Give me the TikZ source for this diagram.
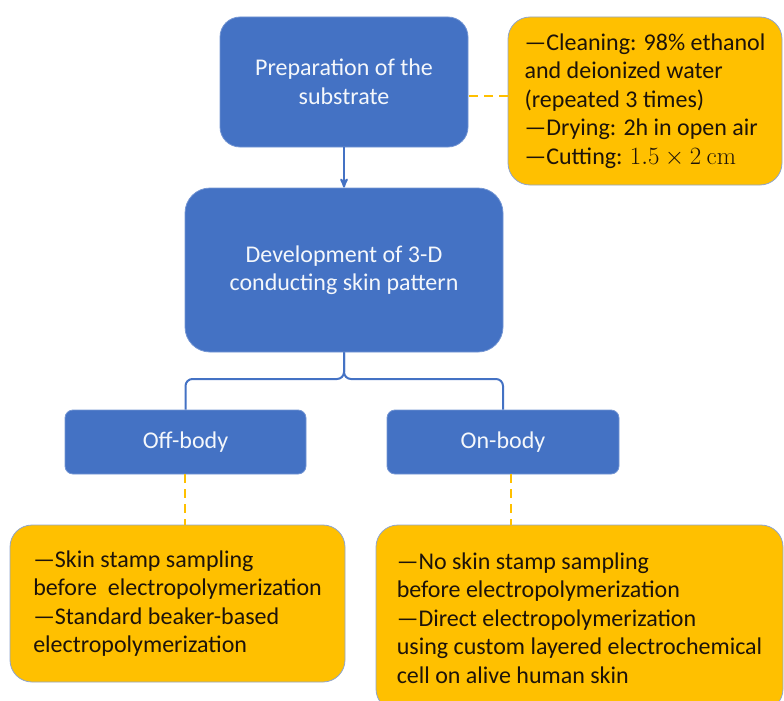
\documentclass[tikz,border=0pt]{standalone}
\usepackage[no-math]{fontspec}
\setmainfont{Carlito}
\usetikzlibrary{arrows,positioning}
\definecolor{boxblue}{HTML}{4472C4}
\definecolor{notegold}{HTML}{FFC000}
\definecolor{noteedge}{HTML}{8EA4CF}
\tikzset{
    card/.style={
           rectangle,
           rounded corners=20pt,
           draw=boxblue!75!white,
           line width=0.8pt,
           inner sep=0pt,
           text centered,
           font=\fontsize{24}{28.5}\selectfont,
           },
}
\begin{document}
\begin{tikzpicture}[
  x=1pt,y=-1pt,
  >=stealth',
  node distance=188pt,
  main/.style={fill=boxblue,text=white!94!boxblue},
  note/.style={fill=notegold,draw=noteedge,text=black!85!brown,align=left},
  link/.style={draw=boxblue,line width=2pt},
  hint/.style={draw=notegold,line width=2pt,dash pattern=on 9pt off 6pt}]
\useasboundingbox (0,0) rectangle (784,701);
\clip (0,0) rectangle (784,701);
\node[card,main,minimum width=248pt,minimum height=130pt,align=center](prep) at (344,82){Preparation of the\\substrate};
\node[card,main,below of=prep,minimum width=318pt,minimum height=164pt,rounded corners=25pt,align=center](dev){Development of 3-D\\conducting skin pattern};
\node[card,main,below of=dev,node distance=172pt,xshift=-158.5pt,minimum width=241pt,minimum height=64pt,rounded corners=8pt](off){Off-body};
\node[card,main,below of=dev,node distance=172pt,xshift=159pt,minimum width=232pt,minimum height=64pt,rounded corners=8pt](on){On-body};
\coordinate[below of=dev,node distance=109pt](split);
\node[card,note,right of=prep,node distance=301pt,yshift=-19pt,minimum width=274pt,minimum height=168pt,rounded corners=22pt](clean){%
—Cleaning: 98\% ethanol\\and deionized water\\(repeated 3 times)\\—Drying: 2h in open air\\—Cutting: $1.5\times2\ \mathrm{cm}$};
\node[card,note,below of=off,node distance=161.5pt,xshift=-8pt,minimum width=335pt,minimum height=157pt,rounded corners=22pt](offnote){%
—Skin stamp sampling\\before\ \ electropolymerization\\—Standard beaker-based\\electropolymerization};
\node[card,note,below of=on,node distance=176pt,xshift=76.5pt,minimum width=407pt,minimum height=186pt,rounded corners=22pt](onnote){%
—No skin stamp sampling\\before electropolymerization\\—Direct electropolymerization\\using custom layered electrochemical\\cell on alive human skin};

\path (prep) edge[link,->] (dev)
      ([yshift=5pt]clean.west) edge[hint] ([yshift=5pt]clean.west -| prep.east)
      ([xshift=-0.5pt]off.south) edge[hint] ([xshift=-0.5pt]off.south |- offnote.north)
      ([xshift=8pt]on.south) edge[hint] ([xshift=8pt]on.south |- onnote.north);
\draw[link,rounded corners=7pt] (dev.south) -- (split) -| (off.north);
\draw[link,rounded corners=7pt] (dev.south) -- (split) -| (on.north);
\end{tikzpicture}
\end{document}
